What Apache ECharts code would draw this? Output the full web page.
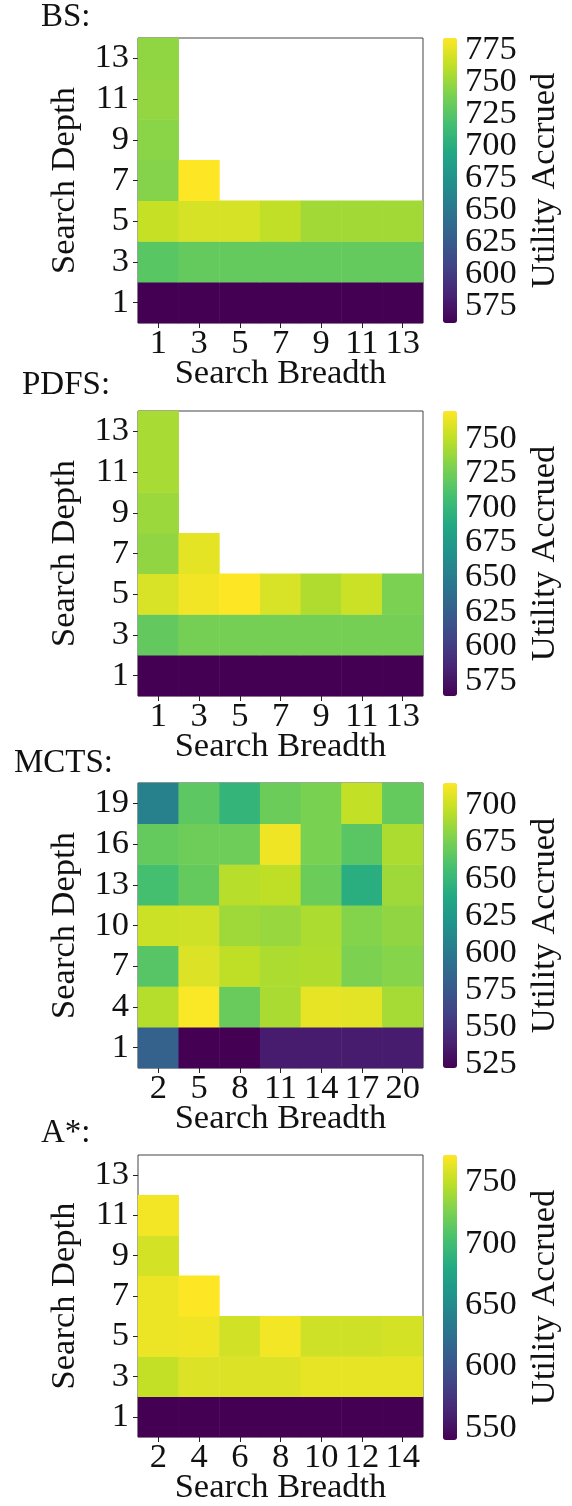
<!DOCTYPE html>
<html>
<head>
<meta charset="utf-8">
<script src="https://cdn.jsdelivr.net/npm/echarts@6/dist/echarts.min.js"></script>
<style>
html,body{margin:0;padding:0;background:#fff;}
#chart{width:572px;height:1506px;}
</style>
</head>
<body>
<div id="chart"></div>
<script>
// ---------- BS ----------
const bsBreadth = ['1','3','5','7','9','11','13'];
const bsDepth = ['1','3','5','7','9','11','13'];
// rows: depth 1 -> 13 ; columns: breadth 1 -> 13 ; null = not run
const bsValues = [
  [562, 562, 562, 562, 562, 562, 562],
  [726, 731, 731, 731, 731, 731, 731],
  [765, 770, 770, 763, 753, 753, 753],
  [743, 784, null, null, null, null, null],
  [745, null, null, null, null, null, null],
  [748, null, null, null, null, null, null],
  [747, null, null, null, null, null, null]
];
const bsRange = [562, 784];
const bsTicks = [575, 600, 625, 650, 675, 700, 725, 750, 775];

// ---------- PDFS ----------
const pdfsBreadth = ['1','3','5','7','9','11','13'];
const pdfsDepth = ['1','3','5','7','9','11','13'];
const pdfsValues = [
  [564, 564, 564, 564, 564, 564, 564],
  [720, 727, 727, 727, 727, 727, 727],
  [758, 766, 770, 758, 745, 754, 729],
  [736, 762, null, null, null, null, null],
  [739, null, null, null, null, null, null],
  [743, null, null, null, null, null, null],
  [743, null, null, null, null, null, null]
];
const pdfsRange = [564, 770];
const pdfsTicks = [575, 600, 625, 650, 675, 700, 725, 750];

// ---------- MCTS ----------
const mctsBreadth = ['2','5','8','11','14','17','20'];
const mctsDepth = ['1','4','7','10','13','16','19'];
const mctsValues = [
  [582, 522, 522, 537, 537, 537, 537],
  [693, 714, 670, 690, 708, 707, 689],
  [664, 705, 696, 691, 692, 677, 680],
  [700, 701, 687, 685, 691, 679, 683],
  [657, 669, 694, 696, 671, 643, 687],
  [669, 672, 672, 711, 676, 665, 691],
  [606, 666, 648, 671, 676, 697, 669]
];
const mctsRange = [522, 715];
const mctsTicks = [525, 550, 575, 600, 625, 650, 675, 700];

// ---------- A* ----------
const astarBreadth = ['2','4','6','8','10','12','14'];
const astarDepth = ['1','3','5','7','9','11','13'];
const astarValues = [
  [540, 540, 540, 540, 540, 540, 540],
  [751, 760, 760, 760, 764, 764, 764],
  [766, 767, 756, 768, 755, 755, 757],
  [766, 772, null, null, null, null, null],
  [757, null, null, null, null, null, null],
  [768, null, null, null, null, null, null],
  [null, null, null, null, null, null, null]
];
const astarRange = [540, 772];
const astarTicks = [550, 600, 650, 700, 750];

const viridis = ['#440154','#482475','#414487','#355f8d','#2a788e','#21918c',
                 '#22a884','#44bf70','#7ad151','#bddf26','#fde725'];

const FONT = 'Liberation Serif';
const FS = 34.5;

const panels = [
  {title:'BS:',   tLeft:41, tTop:1,    top:38,   bx:bsBreadth,    dy:bsDepth,    vals:bsValues,    range:bsRange,    ticks:bsTicks},
  {title:'PDFS:', tLeft:22, tTop:369,  top:411,  bx:pdfsBreadth,  dy:pdfsDepth,  vals:pdfsValues,  range:pdfsRange,  ticks:pdfsTicks},
  {title:'MCTS:', tLeft:14, tTop:747,  top:783,  bx:mctsBreadth,  dy:mctsDepth,  vals:mctsValues,  range:mctsRange,  ticks:mctsTicks},
  {title:'A*:',   tLeft:41, tTop:1117, top:1155, bx:astarBreadth, dy:astarDepth, vals:astarValues, range:astarRange, ticks:astarTicks}
];

const PLOT_LEFT = 138, PLOT_W = 285, PLOT_H = 285;
const CB_LEFT = 443, CB_W = 14;

const option = {
  animation: false,
  backgroundColor: '#fff',
  textStyle: {fontFamily: FONT},
  title: [], grid: [], xAxis: [], yAxis: [], visualMap: [], series: []
};

const txt = {color:'#111', fontFamily: FONT, fontSize: FS};

panels.forEach((p, i) => {
  option.title.push({
    text: p.title, left: p.tLeft, top: p.tTop, padding: 0,
    textStyle: {color:'#111', fontFamily: FONT, fontSize: 33, fontWeight: 'normal'}
  });
  option.grid.push({
    left: PLOT_LEFT, top: p.top, width: PLOT_W, height: PLOT_H,
    show: true, borderColor: '#444', borderWidth: 1, backgroundColor: '#fff'
  });
  option.grid.push({
    left: CB_LEFT, top: p.top, width: CB_W, height: PLOT_H, show: false
  });
  const g = 2 * i;
  option.xAxis.push({
    type: 'category', gridIndex: g, data: p.bx,
    name: 'Search Breadth', nameLocation: 'middle', nameGap: 33, nameMoveOverlap: false,
    nameTextStyle: txt,
    axisLine: {show: false},
    axisTick: {show: true, alignWithLabel: true, interval: 0, length: 5, lineStyle: {color:'#222'}},
    axisLabel: Object.assign({margin: 3, interval: 0, hideOverlap: false}, txt),
    splitLine: {show: false}
  });
  option.xAxis.push({type: 'value', gridIndex: g + 1, show: false});

  // heatmap category y axis  (index 3*i)
  option.yAxis.push({
    type: 'category', gridIndex: g, data: p.dy,
    name: 'Search Depth', nameLocation: 'middle', nameGap: 56, nameRotate: 90, nameMoveOverlap: false,
    nameTextStyle: txt,
    axisLine: {show: false},
    axisTick: {show: true, alignWithLabel: true, interval: 0, length: 5, lineStyle: {color:'#222'}},
    axisLabel: Object.assign({margin: 9, interval: 0, hideOverlap: false}, txt),
    splitLine: {show: false}
  });
  // colorbar axes: labels split in two alternating sets so none are dropped
  const evenTicks = p.ticks.filter((t, k) => k % 2 === 0);
  const oddTicks = p.ticks.filter((t, k) => k % 2 === 1);
  option.yAxis.push({
    type: 'value', gridIndex: g + 1, position: 'right',
    min: p.range[0], max: p.range[1],
    name: 'Utility Accrued', nameLocation: 'middle', nameGap: 70, nameRotate: 90, nameMoveOverlap: false,
    nameTextStyle: txt,
    axisLine: {show: false},
    axisTick: {show: true, length: 5, customValues: p.ticks, lineStyle: {color:'#222'}},
    axisLabel: Object.assign({margin: 8, customValues: evenTicks, hideOverlap: false,
                              showMinLabel: true, showMaxLabel: true}, txt),
    splitLine: {show: false}
  });
  option.yAxis.push({
    type: 'value', gridIndex: g + 1, position: 'right',
    min: p.range[0], max: p.range[1],
    axisLine: {show: false},
    axisTick: {show: false},
    axisLabel: Object.assign({margin: 8, customValues: oddTicks, hideOverlap: false,
                              showMinLabel: true, showMaxLabel: true}, txt),
    splitLine: {show: false}
  });

  const data = [];
  p.vals.forEach((row, yi) => {
    row.forEach((v, xi) => { if (v !== null) data.push([xi, yi, v]); });
  });
  option.visualMap.push({
    type: 'continuous', seriesIndex: i, min: p.range[0], max: p.range[1],
    calculable: false, realtime: false, hoverLink: false,
    left: CB_LEFT, top: p.top, itemWidth: CB_W, itemHeight: PLOT_H,
    padding: 0, text: null, showLabel: false,
    inRange: {color: viridis}
  });
  option.series.push({
    type: 'heatmap', xAxisIndex: g, yAxisIndex: 3 * i, data: data,
    itemStyle: {borderWidth: 0},
    emphasis: {disabled: true}, silent: true
  });
});

const chart = echarts.init(document.getElementById('chart'), null, {renderer: 'canvas'});
chart.setOption(option);
</script>
</body>
</html>
